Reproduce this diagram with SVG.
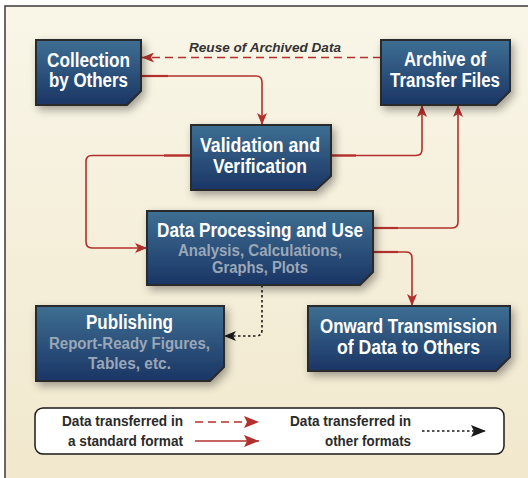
<svg xmlns="http://www.w3.org/2000/svg" width="528" height="478" viewBox="0 0 528 478">
  <defs>
    <linearGradient id="paper" x1="0" y1="0" x2="0" y2="1">
      <stop offset="0" stop-color="#f9f6e8"/>
      <stop offset="1" stop-color="#f1e8cd"/>
    </linearGradient>
    <linearGradient id="box" x1="0" y1="0" x2="0" y2="1">
      <stop offset="0" stop-color="#3e6f93"/>
      <stop offset="1" stop-color="#1b3564"/>
    </linearGradient>
    <filter id="shadow" x="-20%" y="-20%" width="150%" height="160%">
      <feDropShadow dx="3" dy="4" stdDeviation="4" flood-color="#000" flood-opacity="0.35"/>
    </filter>
    <marker id="redHead" markerUnits="userSpaceOnUse" markerWidth="13" markerHeight="10" refX="12" refY="5" orient="auto">
      <path d="M0,0 L12,5 L0,10 L3,5 Z" fill="#b3302c"/>
    </marker>
    <marker id="blackHead" markerUnits="userSpaceOnUse" markerWidth="13" markerHeight="10" refX="12" refY="5" orient="auto">
      <path d="M0,0 L12,5 L0,10 L3,5 Z" fill="#1a1a1a"/>
    </marker>
    <marker id="redHeadL" markerUnits="userSpaceOnUse" markerWidth="16" markerHeight="12" refX="15" refY="6" orient="auto">
      <path d="M0,0 L15,6 L0,12 L3,6 Z" fill="#b3302c"/>
    </marker>
    <marker id="blackHeadL" markerUnits="userSpaceOnUse" markerWidth="16" markerHeight="12" refX="15" refY="6" orient="auto">
      <path d="M0,0 L15,6 L0,12 L3,6 Z" fill="#1a1a1a"/>
    </marker>
    <style>
      .node { fill: url(#box); stroke: #2a2a2a; stroke-width: 2; filter: url(#shadow); }
      .title { font-family: "Liberation Sans", Arial, sans-serif; font-weight: bold; font-size: 20px; fill: #ffffff; text-anchor: middle; }
      .sub { font-family: "Liberation Sans", Arial, sans-serif; font-weight: bold; font-size: 16px; fill: #9aa7b8; text-anchor: middle; }
      .std { fill: none; stroke: #b3302c; stroke-width: 1.6; }
      .dash { stroke-dasharray: 8 5; }
      .stub { fill: none; stroke: #b3302c; stroke-width: 2.2; }
      .other { fill: none; stroke: #1a1a1a; stroke-width: 1.6; stroke-dasharray: 2.5 2.5; }
      .note { font-family: "Liberation Sans", Arial, sans-serif; font-weight: bold; font-style: italic; font-size: 13px; fill: #333333; }
      .legend { font-family: "Liberation Sans", Arial, sans-serif; font-weight: bold; font-size: 14px; fill: #2a2a2a; text-anchor: end; }
    </style>
  </defs>

  <!-- page -->
  <rect x="0" y="0" width="528" height="478" fill="#ffffff"/>
  <rect x="5" y="6" width="523" height="472" fill="url(#paper)"/>
  <path d="M5,478 V6 H528" fill="none" stroke="#3a3a3a" stroke-width="1.5"/>

  <!-- connectors -->
  <g id="connectors">
    <path class="std dash" d="M381,57.5 H142" marker-end="url(#redHead)"/>
    <path class="std" d="M141,76 H256 Q262,76 262,82 V125" marker-end="url(#redHead)"/>
    <path class="std" d="M191,155.5 H92 Q86,155.5 86,161.5 V242 Q86,248 92,248 H147" marker-end="url(#redHead)"/>
    <path class="std" d="M331,155.5 H416 Q422,155.5 422,149.5 V105" marker-end="url(#redHead)"/>
    <path class="std" d="M373,228 H452 Q458,228 458,222 V105" marker-end="url(#redHead)"/>
    <path class="std" d="M373,252 H406 Q412,252 412,258 V306" marker-end="url(#redHead)"/>
    <path class="other" d="M262,285 V330 Q262,336 256,336 H224" marker-end="url(#blackHead)"/>
    <!-- slightly heavier stubs where lines leave the boxes -->
    <path class="stub" d="M141,76 H168"/>
    <path class="stub" d="M164,155.5 H191"/>
    <path class="stub" d="M331,155.5 H356"/>
    <path class="stub" d="M373,228 H398"/>
    <path class="stub" d="M373,252 H398"/>
    <text class="note" x="189" y="52" textLength="152" lengthAdjust="spacingAndGlyphs">Reuse of Archived Data</text>
  </g>

  <g id="collection">
    <path class="node" d="M36,40 H141 V91 L127,105 H36 Z"/>
    <text class="title" x="88.5" y="67" textLength="83" lengthAdjust="spacingAndGlyphs">Collection</text>
    <text class="title" x="88.5" y="87" textLength="79" lengthAdjust="spacingAndGlyphs">by Others</text>
  </g>

  <g id="archive">
    <path class="node" d="M381,40 H510 V91 L496,105 H381 Z"/>
    <text class="title" x="445" y="66" textLength="82" lengthAdjust="spacingAndGlyphs">Archive of</text>
    <text class="title" x="445" y="87" textLength="110" lengthAdjust="spacingAndGlyphs">Transfer Files</text>
  </g>

  <g id="validation">
    <path class="node" d="M191,125 H331 V176 L316,190 H191 Z"/>
    <text class="title" x="260" y="152" textLength="120" lengthAdjust="spacingAndGlyphs">Validation and</text>
    <text class="title" x="260" y="173" textLength="94" lengthAdjust="spacingAndGlyphs">Verification</text>
  </g>

  <g id="processing">
    <path class="node" d="M147,211 H373 V272 L360,285 H147 Z"/>
    <text class="title" x="260" y="237" textLength="206" lengthAdjust="spacingAndGlyphs">Data Processing and Use</text>
    <text class="sub" x="260" y="256" textLength="164" lengthAdjust="spacingAndGlyphs">Analysis, Calculations,</text>
    <text class="sub" x="260" y="273" textLength="96" lengthAdjust="spacingAndGlyphs">Graphs, Plots</text>
  </g>

  <g id="publishing">
    <path class="node" d="M36,306 H224 V367 L210,381 H36 Z"/>
    <text class="title" x="129.5" y="329" textLength="87" lengthAdjust="spacingAndGlyphs">Publishing</text>
    <text class="sub" x="129.5" y="349" textLength="161" lengthAdjust="spacingAndGlyphs">Report-Ready Figures,</text>
    <text class="sub" x="129.5" y="369" textLength="83" lengthAdjust="spacingAndGlyphs">Tables, etc.</text>
  </g>

  <g id="onward">
    <path class="node" d="M308,306 H510 V357 L496,371 H308 Z"/>
    <text class="title" x="408.5" y="333" textLength="177" lengthAdjust="spacingAndGlyphs">Onward Transmission</text>
    <text class="title" x="408.5" y="354" textLength="143" lengthAdjust="spacingAndGlyphs">of Data to Others</text>
  </g>

  <g id="legend">
    <rect x="35" y="408" width="469" height="46" rx="8" fill="#ffffff" stroke="#1a1a1a" stroke-width="1.5"/>
    <text class="legend" x="183" y="426" textLength="121" lengthAdjust="spacingAndGlyphs">Data transferred in</text>
    <text class="legend" x="183" y="446" textLength="115" lengthAdjust="spacingAndGlyphs">a standard format</text>
    <path class="std dash" d="M195,422 H259" marker-end="url(#redHeadL)"/>
    <path class="std" d="M195,441 H259" marker-end="url(#redHeadL)"/>
    <text class="legend" x="411" y="426" textLength="121" lengthAdjust="spacingAndGlyphs">Data transferred in</text>
    <text class="legend" x="411" y="446" textLength="86" lengthAdjust="spacingAndGlyphs">other formats</text>
    <path class="other" d="M422,431 H486" marker-end="url(#blackHeadL)"/>
  </g>
</svg>
